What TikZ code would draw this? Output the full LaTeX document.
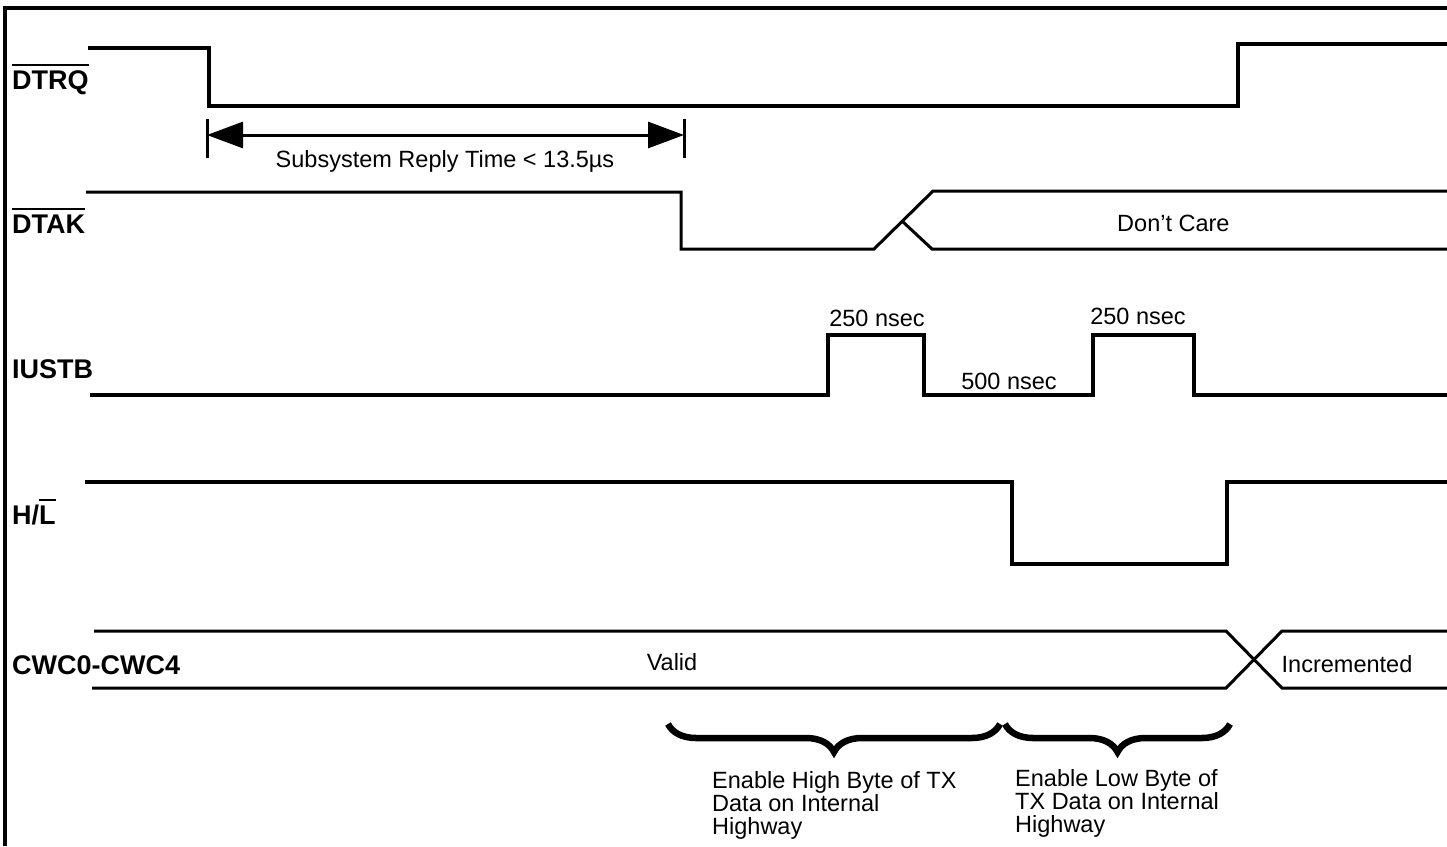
\documentclass[tikz,border=0pt]{standalone}
\usepackage{fontspec}
\setmainfont{Liberation Sans}
\usetikzlibrary{arrows.meta,decorations.pathreplacing}
\newsavebox\ovbox
\newcommand\ovl[1]{\sbox\ovbox{#1}\rlap{\rule[\dimexpr\ht\ovbox+4pt\relax]{\wd\ovbox}{2pt}}\usebox\ovbox}
\begin{document}
\begin{tikzpicture}[x=1pt,y=-1pt,
  frame/.style={line width=4pt},
  wave/.style={line width=3.4pt, line join=miter},
  bus/.style={line width=3pt, line join=miter},
  sig/.style={font=\fontsize{27}{30}\selectfont\bfseries, inner sep=0pt, anchor=base west},
  lbl/.style={font=\fontsize{23.5}{26}\selectfont, inner sep=0pt, anchor=base},
  note/.style={font=\fontsize{23.5}{23}\selectfont, inner sep=0pt, anchor=north west, align=left},
  dim/.style={line width=3pt, {Triangle[length=36pt,width=26pt]}-{Triangle[length=36pt,width=26pt]}},
  bar/.style={line width=3pt},
  brc/.style={line width=6.5pt, decorate, decoration={brace, amplitude=28pt, mirror}}
]
\useasboundingbox (0,0) rectangle (1447,846);
% frame
\draw[frame] (5,846) -- (5,8) -- (1447,8);

% signal labels
\node[sig] (ldtrq) at (12,89) {\ovl{DTRQ}};
\node[sig] (ldtak) at (12,233) {\ovl{DTAK}};
\node[sig] (liustb) at (12,378) {IUSTB};
\node[sig] (lhl) at (12,524) {H/\ovl{L}};
\node[sig] (lcwc) at (12,674) {CWC0-CWC4};

% DTRQ
\draw[wave] (88,48) -- (209,48) -- (209,106) -- (1238,106) -- (1238,44) -- (1447,44);
% reply time dimension
\coordinate (ra) at (207,135);
\coordinate (rb) at (684,135);
\draw[bar] (207,119) -- (207,158);
\draw[bar] (684,119) -- (684,158);
\draw[dim] (ra) -- (rb);
\node[lbl] (treply) at (445,167) {Subsystem Reply Time < 13.5µs};

% DTAK
\draw[bus] (86,192) -- (681,192) -- (681,249) -- (874,249) -- (933,191) -- (1447,191);
\draw[bus] (902,221) -- (932,249) -- (1447,249);
\node[lbl, anchor=base west] (tdc) at (1117,231) {Don’t Care};

% IUSTB
\draw[wave] (90,395) -- (828,395) -- (828,335) -- (924,335) -- (924,395) -- (1093,395) -- (1093,335) -- (1194,335) -- (1194,395) -- (1447,395);
\node[lbl] (t250a) at (877,326) {250 nsec};
\node[lbl] (t250b) at (1138,324) {250 nsec};
\node[lbl] (t500) at (1009,389) {500 nsec};

% H/L
\draw[wave] (85,482) -- (1012,482) -- (1012,564) -- (1227,564) -- (1227,482) -- (1447,482);

% CWC0-CWC4
\draw[bus] (94,631) -- (1226,631) -- (1282,688) -- (1447,688);
\draw[bus] (92,688) -- (1226,688) -- (1282,631) -- (1447,631);
\node[lbl] (tvalid) at (672,670) {Valid};
\node[lbl] (tinc) at (1347,672) {Incremented};

% braces
\coordinate (b1a) at (668,724);
\coordinate (b1b) at (1000,724);
\coordinate (b2a) at (1005,724);
\coordinate (b2b) at (1230,724);
\draw[brc] (b1a) -- (b1b);
\draw[brc] (b2a) -- (b2b);
\node[note] (thigh) at (712,771) {Enable High Byte of TX\\Data on Internal\\Highway};
\node[note] (tlow) at (1015,769) {Enable Low Byte of\\TX Data on Internal\\Highway};
\end{tikzpicture}
\end{document}
